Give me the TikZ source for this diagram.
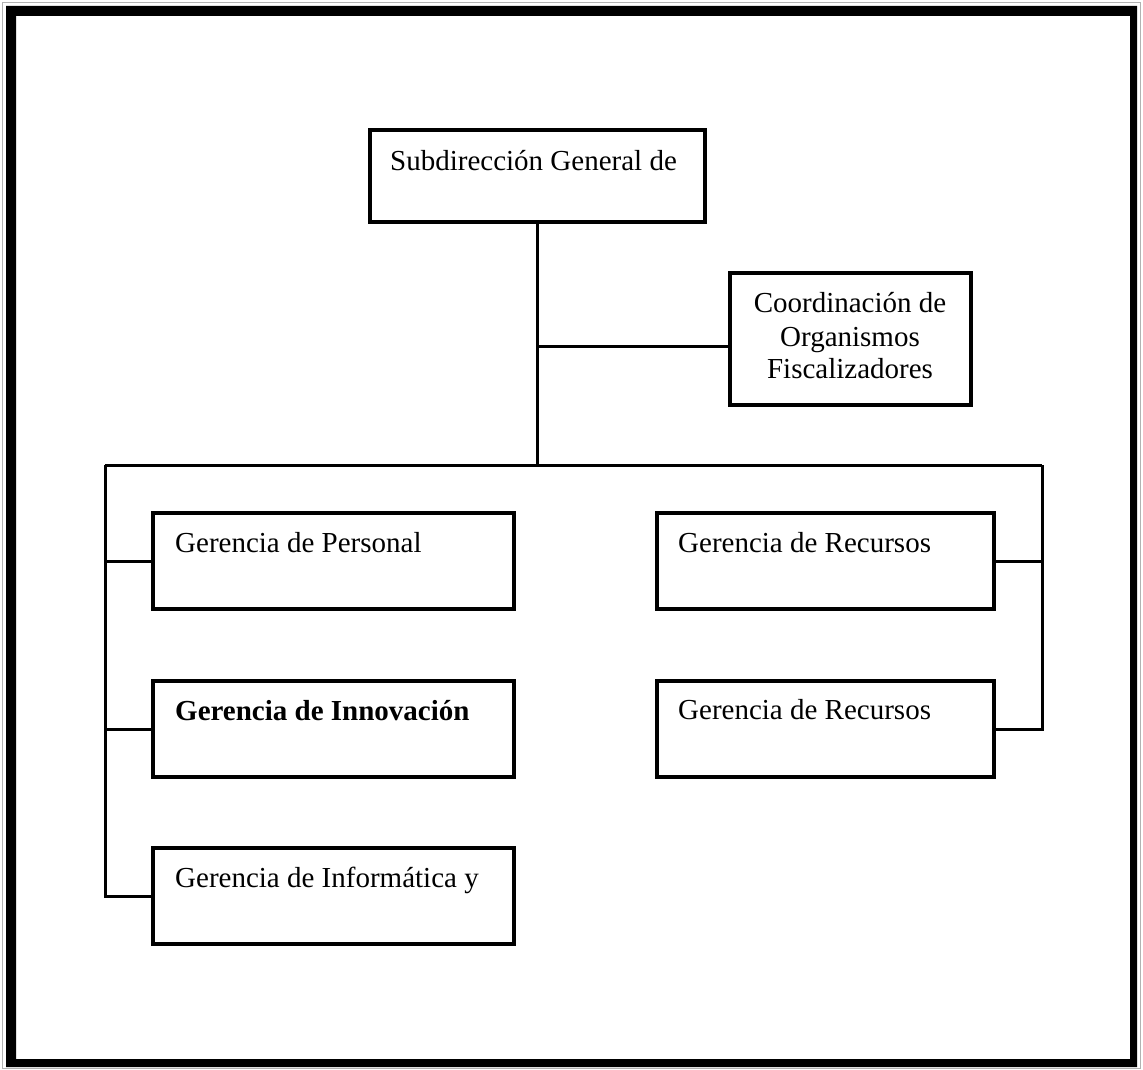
\documentclass[tikz,border=0pt]{standalone}
\usepackage{fontspec}
\setmainfont{Liberation Serif}
\begin{document}
\begin{tikzpicture}[x=1pt,y=-1pt,
  box/.style={draw=black, line width=4pt, fill=white, inner sep=0pt, outer sep=0pt, anchor=north west},
  conn/.style={draw=black, line width=3pt},
  lbl/.style={inner sep=0pt, anchor=base west, font=\fontsize{29}{33}\selectfont},
  clbl/.style={inner sep=0pt, align=center, font=\fontsize{29}{33.5}\selectfont}]
\useasboundingbox (0,0) rectangle (1143,1070);
% frame
\draw[gray!60, line width=1pt] (2.5,2.5) rectangle (1140.5,1068);
\fill[black, even odd rule] (6,6) rectangle (1137,1067) (16,16) rectangle (1130,1059);
% junction coordinates
\coordinate (j1) at (537.5,346);
\coordinate (j2) at (537.5,465);
\coordinate (jl) at (105,465);
\coordinate (jr) at (1042,465);
% boxes
\node[box, minimum width=335pt, minimum height=92pt] (top) at (370,130) {};
\node[box, minimum width=241pt, minimum height=132pt] (coord) at (730,273) {};
\node[box, minimum width=361pt, minimum height=96pt] (per) at (153,513) {};
\node[box, minimum width=361pt, minimum height=96pt] (inn) at (153,681) {};
\node[box, minimum width=361pt, minimum height=96pt] (inf) at (153,848) {};
\node[box, minimum width=337pt, minimum height=96pt] (rec1) at (657,513) {};
\node[box, minimum width=337pt, minimum height=96pt] (rec2) at (657,681) {};
% connectors
\draw[conn] (top.south) -- (j2);
\draw[conn] (j1) -- (j1 -| coord.west);
\draw[conn] (jl) -- (jr);
\draw[conn] (jl) |- (inf.west);
\draw[conn] (jl |- per.west) -- (per.west);
\draw[conn] (jl |- inn.west) -- (inn.west);
\draw[conn] (jr) |- (rec2.east);
\draw[conn] (jr |- rec1.east) -- (rec1.east);
% texts
\node[lbl] (ttop) at (390,170) {Subdirección General de};
\node[clbl, anchor=base] (tc1) at (850,312) {Coordinación de};
\node[clbl, anchor=base] (tc2) at (850,346) {Organismos};
\node[clbl, anchor=base] (tc3) at (850,378) {Fiscalizadores};
\node[lbl] (tper) at (175,552) {Gerencia de Personal};
\node[lbl, font=\fontsize{29}{33}\selectfont\bfseries] (tinn) at (175,720) {Gerencia de Innovación};
\node[lbl] (tinf) at (175,887) {Gerencia de Informática y};
\node[lbl] (trec1) at (678,552) {Gerencia de Recursos};
\node[lbl] (trec2) at (678,719) {Gerencia de Recursos};
\end{tikzpicture}
\end{document}
